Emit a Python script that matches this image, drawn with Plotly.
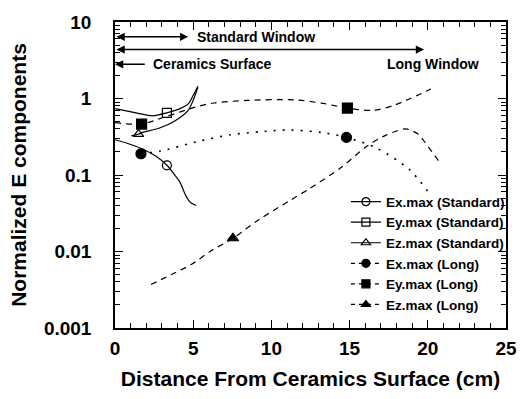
import plotly.graph_objects as go

# ---------------- data ----------------
ex_std_x = [0.0, 0.73, 1.76, 2.6, 3.32, 3.85, 4.16, 4.47, 4.7, 4.88, 5.19]
ex_std_y = [0.289, 0.262, 0.219, 0.177, 0.134, 0.098, 0.080, 0.057, 0.047, 0.043, 0.040]

ey_std_x = [0.0, 1.35, 2.39, 3.32, 4.16, 4.68, 5.0, 5.3]
ey_std_y = [0.738, 0.65, 0.594, 0.65, 0.738, 0.85, 1.1, 1.45]

ez_std_x = [1.04, 1.5, 1.76, 2.81, 3.85, 4.68, 5.0, 5.3]
ez_std_y = [0.325, 0.342, 0.36, 0.408, 0.513, 0.70, 0.95, 1.40]

ex_long_x = [1.66, 2.9, 5.3, 7.37, 9.46, 11.1, 13.2, 14.8, 16.7, 18.8, 20.2]
ex_long_y = [0.19, 0.205, 0.275, 0.335, 0.37, 0.388, 0.36, 0.31, 0.226, 0.119, 0.054]

ey_long_x = [0.0, 1.7, 3.22, 5.3, 6.34, 8.42, 11.5, 13.2, 14.86, 16.5, 17.8, 20.2]
ey_long_y = [0.483, 0.463, 0.577, 0.79, 0.873, 0.944, 0.96, 0.87, 0.75, 0.70, 0.81, 1.33]

ez_long_x = [2.3, 3.6, 4.9, 6.1, 7.54, 9.25, 11.2, 12.4, 14.45, 16.1, 17.3, 18.6, 19.4, 19.85, 20.7]
ez_long_y = [0.0037, 0.0050, 0.0068, 0.0101, 0.0149, 0.0265, 0.0466, 0.0656, 0.125, 0.237, 0.33, 0.40, 0.34, 0.262, 0.152]

# marker positions
ex_std_mx, ex_std_my = [3.32], [0.134]
ey_std_mx, ey_std_my = [3.32], [0.65]
ez_std_mx, ez_std_my = [1.5], [0.342]
ex_long_mx, ex_long_my = [1.66, 14.8], [0.19, 0.31]
ey_long_mx, ey_long_my = [1.7, 14.86], [0.463, 0.75]
ez_long_mx, ez_long_my = [7.54], [0.0149]

legend_names = ["Ex.max (Standard)", "Ey.max (Standard)", "Ez.max (Standard)",
                "Ex.max (Long)", "Ey.max (Long)", "Ez.max (Long)"]

y_tickvals = [0.001, 0.01, 0.1, 1, 10]
y_ticktext = ["0.001", "0.01", "0.1", "1", "10"]
x_tickvals = [0, 5, 10, 15, 20, 25]

FONT = "Liberation Sans, Arial, sans-serif"
DASH = "6px,5px"
DOT = "2px,7px"

fig = go.Figure()

curves = [
    (ex_std_x, ex_std_y, "solid", 1.2),
    (ey_std_x, ey_std_y, "solid", 1.2),
    (ez_std_x, ez_std_y, "solid", 1.2),
    (ex_long_x, ex_long_y, DOT, 1.6),
    (ey_long_x, ey_long_y, DASH, 1.2),
    (ez_long_x, ez_long_y, DASH, 1.2),
]
for cx, cy, dash, w in curves:
    fig.add_trace(go.Scatter(x=cx, y=cy, mode="lines", showlegend=False,
                             line=dict(color="black", width=w, dash=dash, shape="spline", smoothing=0.8),
                             hoverinfo="skip"))

markers = [
    (ex_std_mx, ex_std_my, "circle-open", 9),
    (ey_std_mx, ey_std_my, "square-open", 9),
    (ez_std_mx, ez_std_my, "triangle-up-open", 9),
    (ex_long_mx, ex_long_my, "circle", 10),
    (ey_long_mx, ey_long_my, "square", 10),
    (ez_long_mx, ez_long_my, "triangle-up", 10),
]
for mx, my, sym, sz in markers:
    fig.add_trace(go.Scatter(x=mx, y=my, mode="markers", showlegend=False,
                             marker=dict(symbol=sym, size=sz, color="black",
                                         line=dict(color="black", width=1.2))))

# legend entries
leg_dash = ["solid", "solid", "solid", "4px,4px", "4px,4px", "4px,4px"]
for name, (mx, my, sym, sz), dash in zip(legend_names, markers, leg_dash):
    fig.add_trace(go.Scatter(x=[None], y=[None], mode="lines+markers", name=name,
                             line=dict(color="black", width=1.2, dash=dash),
                             marker=dict(symbol=sym, size=8, color="black",
                                         line=dict(color="black", width=1.2))))

axis_common = dict(showline=True, linecolor="black", linewidth=1.5, mirror="ticks",
                   ticks="inside", tickcolor="black", tickwidth=1.2, showgrid=False,
                   zeroline=False)

fig.update_layout(
    width=529, height=399,
    margin=dict(l=115, r=13, t=17, b=71),
    paper_bgcolor="white", plot_bgcolor="white",
    font=dict(family=FONT, color="black"),
    xaxis=dict(range=[0, 25], tickmode="array", tickvals=x_tickvals, ticklen=8,
               minor=dict(dtick=1, ticks="inside", ticklen=5, tickcolor="black", tickwidth=1.2),
               tickfont=dict(size=19, weight="bold"), ticklabelstandoff=2,
               title=dict(text="Distance From Ceramics Surface (cm)",
                          font=dict(size=21, weight="bold"), standoff=14),
               **axis_common),
    yaxis=dict(type="log", range=[-3, 1], tickmode="array", tickvals=y_tickvals,
               ticktext=y_ticktext, ticklen=8,
               minor=dict(tickmode="array",
                          tickvals=[m * 10 ** e for e in (-3, -2, -1, 0) for m in range(2, 10)],
                          ticks="inside", ticklen=5, tickcolor="black", tickwidth=1.2),
               tickfont=dict(size=19, weight="bold"), ticklabelstandoff=18,
               title=dict(text="Normalized E components",
                          font=dict(size=21, weight="bold"), standoff=12),
               **axis_common),
    legend=dict(x=1.01, xanchor="right", y=0.025, yanchor="bottom",
                bgcolor="rgba(0,0,0,0)", font=dict(size=13.5, weight="bold"),
                tracegroupgap=0),
)

ann_font = dict(family=FONT, size=14, color="black", weight="bold")
# arrows (y given in log10 units for the log axis)
arrows = [
    (4.68, 0.807, 0.0, "end+start"),   # Standard Window
    (19.76, 0.64, 0.0, "end+start"),   # Long Window
    (0.0, 0.447, 2.0, "end"),          # Ceramics Surface
]
for x_end, ylog, x_start, side in arrows:
    fig.add_annotation(x=x_end, y=ylog, ax=x_start, ay=ylog, xref="x", yref="y",
                       axref="x", ayref="y", text="", showarrow=True,
                       arrowhead=2, arrowsize=1.1, arrowwidth=1.5, arrowcolor="black",
                       arrowside=side, standoff=0, startstandoff=0)

fig.add_annotation(x=5.1, y=0.807, xref="x", yref="y", text="Standard Window",
                   showarrow=False, xanchor="left", font=ann_font)
fig.add_annotation(x=2.3, y=0.447, xref="x", yref="y", text="Ceramics Surface",
                   showarrow=False, xanchor="left", font=ann_font)
fig.add_annotation(x=23.4, y=0.447, xref="x", yref="y", text="Long Window",
                   showarrow=False, xanchor="right", font=ann_font)

fig.write_html("out.html")
